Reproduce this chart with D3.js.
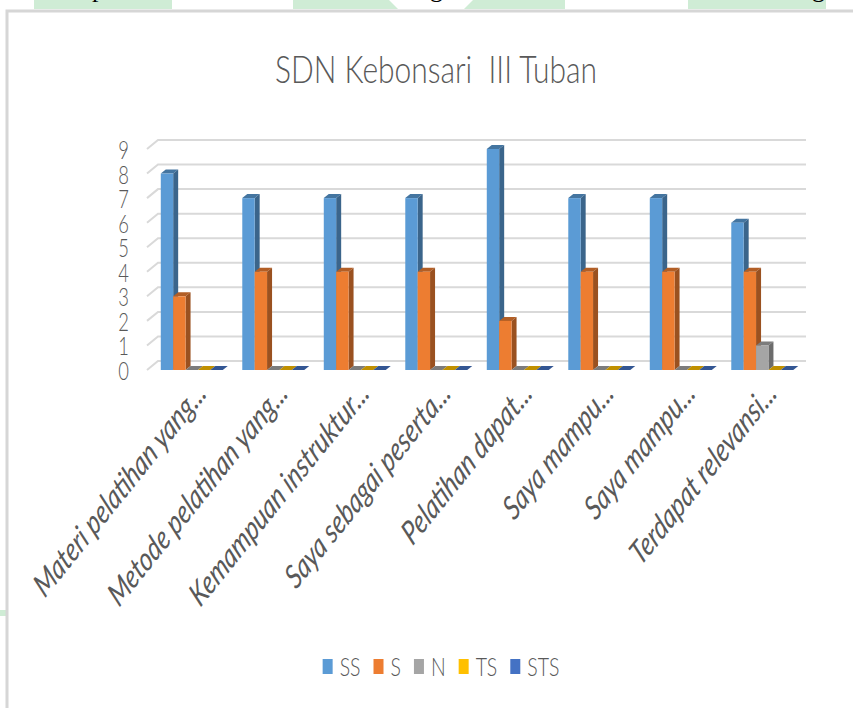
<!DOCTYPE html>
<html>
<head>
<meta charset="utf-8">
<script src="https://cdn.jsdelivr.net/npm/d3@7"></script>
<style>
  body { margin: 0; background: #fff; }
  svg text { fill: #595959; font-family: Lato, "Open Sans", sans-serif; }
</style>
</head>
<body>
<div id="chart"></div>
<script>
var width = 853, height = 708;

// data
var categories = ["Materi pelatihan yang...", "Metode pelatihan yang...", "Kemampuan instruktur...",
  "Saya sebagai peserta...", "Pelatihan dapat...", "Saya mampu...", "Saya mampu...", "Terdapat relevansi..."];
var seriesNames = ["SS", "S", "N", "TS", "STS"];
var seriesColors = ["#5B9BD5", "#ED7D31", "#A5A5A5", "#FFC000", "#4472C4"];
var valSS  = [8, 7, 7, 7, 9, 7, 7, 6];
var valS   = [3, 4, 4, 4, 2, 4, 4, 4];
var valN   = [0, 0, 0, 0, 0, 0, 0, 1];
var valTS  = [0, 0, 0, 0, 0, 0, 0, 0];
var valSTS = [0, 0, 0, 0, 0, 0, 0, 0];
var yTicks = [0, 1, 2, 3, 4, 5, 6, 7, 8, 9];
var title = "SDN Kebonsari  III Tuban";

var seriesValues = [valSS, valS, valN, valTS, valSTS];

var svg = d3.select('#chart')
            .append('svg')
            .attr('width', width)
            .attr('height', height);

// scraps of the scanned page around the chart
var green = '#cfecd5';
svg.append('rect').attr('x', 34).attr('y', 0).attr('width', 138).attr('height', 9).attr('fill', green);
svg.append('path').attr('d', 'M293 0 L389 0 L398 9 L293 9 Z').attr('fill', green);
svg.append('path').attr('d', 'M473 0 L565 0 L565 9 L464 9 Z').attr('fill', green);
svg.append('rect').attr('x', 688).attr('y', 0).attr('width', 138).attr('height', 9).attr('fill', green);
svg.append('rect').attr('x', 0).attr('y', 610).attr('width', 6).attr('height', 6).attr('fill', green);
[['p', 92], ['g', 430], ['g', 812]].forEach(function(g) {
  svg.append('text').attr('x', g[1]).attr('y', -3)
     .style('font-family', '"Liberation Serif", serif').style('font-size', '26px')
     .style('fill', '#000').text(g[0]);
});
svg.append('path').attr('d', 'M7 708 L7 11 L853 11')
   .attr('fill', 'none').attr('stroke', '#d6d6d6').attr('stroke-width', 3);

// scales
var y = d3.scaleLinear().domain([0, 9]).range([370, 149]);
var x = d3.scaleBand().domain(d3.range(categories.length))
          .range([151, 803]).paddingInner(0.24).paddingOuter(0.12);
var xs = d3.scaleBand().domain(seriesNames).range([0, x.bandwidth()]);

var wallDx = 11, wallDy = -9;   // depth of back wall
var barDx = 5, barDy = -4;      // depth of each bar
var frontLeft = 147, backRight = 806;

// gridlines on side + back wall
svg.append('g').selectAll('path')
   .data(yTicks).enter().append('path')
   .attr('d', function(d) {
     var yy = y(d);
     return 'M' + frontLeft + ' ' + yy + ' L' + (frontLeft + wallDx) + ' ' + (yy + wallDy) +
            ' L' + backRight + ' ' + (yy + wallDy);
   })
   .attr('fill', 'none').attr('stroke', '#d9d9d9').attr('stroke-width', 2);

// y labels
svg.append('g').selectAll('text')
   .data(yTicks).enter().append('text')
   .attr('transform', function(d) { return 'translate(' + [129, y(d) + 10] + ') scale(0.8,1.08)'; })
   .attr('text-anchor', 'end')
   .style('font-size', '23px')
   .style('font-weight', 300)
   .text(function(d) { return d; });

// bars
var barData = [];
categories.forEach(function(c, i) {
  seriesNames.forEach(function(s, j) {
    barData.push({ cat: i, series: s, color: seriesColors[j], value: seriesValues[j][i] });
  });
});

var bars = svg.append('g').selectAll('g')
   .data(barData).enter().append('g');

bars.each(function(d) {
  var g = d3.select(this);
  var x0 = x(d.cat) + xs(d.series), w = xs.bandwidth();
  var y0 = y(0), y1 = y(d.value);
  var c = d3.color(d.color);
  g.append('path')
   .attr('d', 'M' + x0 + ' ' + y1 + ' L' + (x0 + w) + ' ' + y1 + ' L' + (x0 + w + barDx) + ' ' + (y1 + barDy) +
              ' L' + (x0 + barDx) + ' ' + (y1 + barDy) + ' Z')
   .attr('fill', c.darker(0.8));
  if (d.value > 0) {
    g.append('path')
     .attr('d', 'M' + (x0 + w) + ' ' + y1 + ' L' + (x0 + w + barDx) + ' ' + (y1 + barDy) +
                ' L' + (x0 + w + barDx) + ' ' + (y0 + barDy) + ' L' + (x0 + w) + ' ' + y0 + ' Z')
     .attr('fill', c.darker(1.2));
    g.append('rect')
     .attr('x', x0).attr('y', y1).attr('width', w).attr('height', y0 - y1)
     .attr('fill', d.color);
  }
});

// x labels (rotated, italic, squeezed like the scanned picture)
var labelSize = 20, labelSqueeze = 0.88;
var xLabels = svg.append('g').selectAll('text')
   .data(categories).enter().append('text')
   .attr('transform', function(d, i) {
     return 'translate(' + [x(i) + x.bandwidth() / 2 + 16, 395] + ') scale(0.8,1) rotate(-45) scale(' + labelSqueeze + ',1)';
   })
   .attr('text-anchor', 'end')
   .style('font-style', 'italic')
   .style('font-size', labelSize + 'px')
   .text(function(d) { return d; });
var firstLen = xLabels.node().getComputedTextLength() * labelSqueeze;
xLabels.style('font-size', (labelSize * 288 / firstLen) + 'px');

// title
var t = svg.append('text')
   .style('font-size', '38px')
   .style('font-weight', 300)
   .attr('text-anchor', 'middle')
   .style('white-space', 'pre')
   .text(title);
var tScale = 322 / t.node().getComputedTextLength();
t.attr('transform', 'translate(436,83) scale(' + tScale + ',1)');

// legend
var legend = svg.append('g');
var lx = 0;
var items = legend.selectAll('g')
   .data(seriesNames).enter().append('g');
items.each(function(d, i) {
  var g = d3.select(this);
  g.append('rect').attr('x', lx).attr('y', 659).attr('width', 10).attr('height', 15)
   .attr('fill', seriesColors[i]);
  var tx = g.append('text')
   .attr('transform', 'translate(' + [lx + 17, 676] + ') scale(0.78,1)')
   .style('font-size', '25px')
   .style('font-weight', 300)
   .text(d);
  lx += 17 + tx.node().getComputedTextLength() * 0.78 + 13;
});
var legendW = lx - 13;
legend.attr('transform', 'translate(' + (441 - legendW / 2) + ',0)');
</script>
</body>
</html>
